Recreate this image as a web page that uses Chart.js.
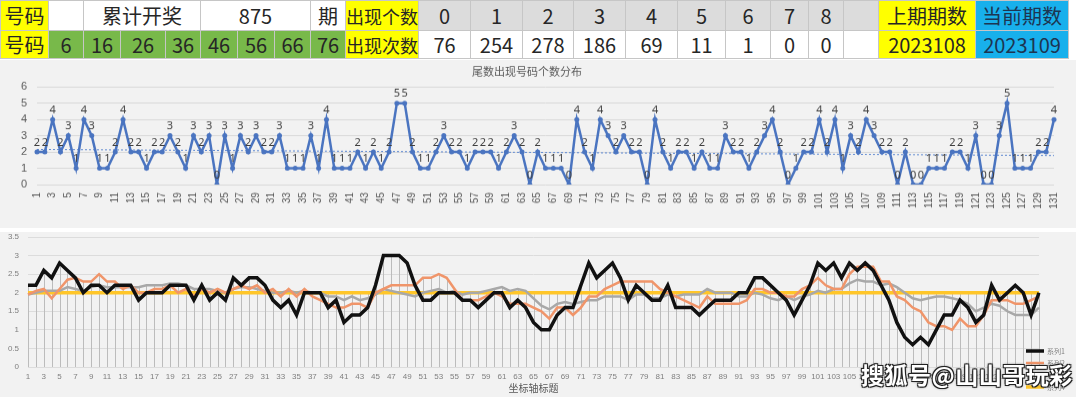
<!DOCTYPE html>
<html>
<head>
<meta charset="utf-8">
<script src="https://cdn.jsdelivr.net/npm/chart.js@4.4.0/dist/chart.umd.min.js"></script>
<style>
body{margin:0;width:1080px;height:397px;overflow:hidden;position:relative;background:#fff;font-family:"Noto Sans CJK SC","Noto Sans",sans-serif;}
#sheet{position:absolute;left:0;top:0;border-collapse:collapse;table-layout:fixed;width:1068px;}
#sheet td{border:1px solid #c6c6c6;padding:0;text-align:center;color:#262626;white-space:nowrap;overflow:hidden;font-size:20px;line-height:24px;}
#sheet tr.r1{height:30px}
#sheet tr.r2{height:28px}
.yel{background:#ffff00}
.grn{background:#78b94a}
.gry{background:#dcdcdc}
.blu{background:#18b0ec;color:#1d3552 !important}
.lbl{font-size:18px !important}
canvas{position:absolute;left:0;background:#f2f2f2;}
#topChart{top:60px;border-bottom:2px solid #fff}
#bottomChart{top:232px}
#mark{position:absolute;left:861px;top:357px;font-size:23px;font-weight:bold;color:#fff;letter-spacing:0.5px;
  text-shadow:-1px -1px 0 #222,1px -1px 0 #222,-1px 1px 0 #222,1px 1px 0 #222,0 0 3px #000;}
</style>
</head>
<body>
<table id="sheet"><colgroup id="cols"></colgroup><tbody id="rows"></tbody></table>
<canvas id="topChart" width="1076" height="170"></canvas>
<canvas id="bottomChart" width="1076" height="165"></canvas>
<div id="mark">搜狐号@山山哥玩彩</div>
<script>
// 表头数据
var tailCodes = [6, 16, 26, 36, 46, 56, 66, 76];
var totalDraws = 875;
var hitDigits = [0, 1, 2, 3, 4, 5, 6, 7, 8];
var hitCounts = [76, 254, 278, 186, 69, 11, 1, 0, 0];
var lastIssue = 2023108;
var currentIssue = 2023109;

// 尾数出现号码个数 (1-131期)
var tailCounts = [
  2, 2, 4, 2, 3, 1, 4, 3, 1, 1,
  2, 4, 2, 2, 1, 2, 2, 3, 2, 1,
  3, 2, 3, 0, 3, 1, 3, 2, 3, 2,
  2, 3, 1, 1, 1, 3, 1, 4, 1, 1,
  1, 2, 1, 2, 1, 2, 5, 5, 2, 1,
  1, 2, 3, 2, 2, 1, 2, 2, 2, 1,
  2, 3, 2, 0, 2, 1, 1, 1, 0, 4,
  2, 1, 4, 3, 2, 3, 2, 2, 0, 4,
  2, 1, 2, 2, 1, 2, 1, 1, 3, 2,
  2, 1, 2, 3, 4, 2, 0, 1, 2, 2,
  4, 2, 4, 1, 3, 2, 4, 3, 2, 2,
  0, 2, 0, 0, 1, 1, 1, 2, 2, 1,
  3, 0, 0, 3, 5, 1, 1, 1, 2, 2,
  4
];

// 下图四个系列 (1-129)
var series1 = [
  2.2, 2.2, 2.6, 2.4, 2.8, 2.6, 2.4, 2.0, 2.2, 2.2,
  2.0, 2.2, 2.2, 2.2, 1.8, 2.0, 2.0, 2.0, 2.2, 2.2,
  2.2, 1.8, 2.2, 1.8, 2.0, 1.8, 2.4, 2.2, 2.4, 2.4,
  2.2, 1.8, 1.6, 1.8, 1.4, 2.0, 2.0, 2.0, 1.6, 1.8,
  1.2, 1.4, 1.4, 1.6, 2.2, 3.0, 3.0, 3.0, 2.8, 2.2,
  1.8, 1.8, 2.0, 2.0, 2.0, 1.8, 1.8, 1.6, 1.8, 2.0,
  2.0, 1.6, 1.8, 1.6, 1.2, 1.0, 1.0, 1.4, 1.6, 1.6,
  2.2, 2.8, 2.4, 2.6, 2.8, 2.4, 1.8, 2.2, 2.0, 1.8,
  1.8, 2.2, 1.6, 1.6, 1.6, 1.4, 1.6, 1.8, 1.8, 1.8,
  2.0, 2.0, 2.4, 2.4, 2.2, 2.0, 1.8, 1.4, 1.8, 2.2,
  2.8, 2.6, 2.8, 2.4, 2.8, 2.6, 2.8, 2.6, 2.2, 1.8,
  1.2, 0.8, 0.6, 0.8, 0.6, 1.0, 1.4, 1.4, 1.8, 1.6,
  1.2, 1.4, 2.2, 1.8, 2.0, 2.2, 2.0, 1.4, 2.0
];
var series2 = [
  1.95, 2.05, 2.1, 1.85, 2.1, 2.35, 2.4, 2.3, 2.3, 2.5,
  2.3, 2.3, 2.1, 2.2, 2.0, 2.0, 2.1, 2.1, 2.2, 2.0,
  2.1, 1.9, 2.1, 2.0, 2.1, 2.0, 2.1, 2.2, 2.1, 2.2,
  2.0, 2.1, 1.9, 2.1, 1.9, 2.1, 1.9, 1.8, 1.7, 1.6,
  1.6, 1.7, 1.7, 1.6, 2.0, 2.1, 2.2, 2.2, 2.2, 2.2,
  2.4, 2.4, 2.5, 2.4, 2.1, 1.8, 1.8, 1.8, 1.9, 2.0,
  1.9, 1.7, 1.7, 1.7, 1.6, 1.5, 1.3, 1.6, 1.6, 1.4,
  1.6, 1.9, 1.9, 2.1, 2.2, 2.3, 2.3, 2.3, 2.3, 2.3,
  2.1, 2.0, 1.9, 1.8, 1.7, 1.6, 1.9, 1.7, 1.7, 1.7,
  1.7, 1.8, 2.1, 2.1, 2.0, 2.0, 1.9, 1.9, 2.1, 2.2,
  2.4, 2.2, 2.1, 2.1, 2.5, 2.7, 2.7, 2.7, 2.3, 2.3,
  1.9, 1.8, 1.6, 1.5, 1.2, 1.1, 1.1, 1.0, 1.3, 1.1,
  1.1, 1.4, 1.8, 1.8, 1.8, 1.7, 1.7, 1.8, 1.9
];
var series3 = [
  1.95, 2.0, 2.05, 2.05, 2.05, 2.15, 2.1, 2.05, 2.15, 2.2,
  2.15, 2.15, 2.15, 2.15, 2.15, 2.2, 2.2, 2.2, 2.25, 2.25,
  2.2, 2.1, 2.1, 2.1, 2.05, 2.0, 2.1, 2.15, 2.15, 2.1,
  2.05, 2.0, 2.0, 2.05, 2.0, 2.05, 2.0, 2.0, 1.9, 1.9,
  1.8, 1.9, 1.8, 1.85, 1.95, 2.1, 2.05, 2.0, 1.95, 1.9,
  2.0, 2.05, 2.1, 2.0, 2.05, 1.95, 2.0, 2.0, 2.05, 2.1,
  2.15, 2.05, 2.1, 2.05, 1.85, 1.65, 1.55, 1.7, 1.75, 1.7,
  1.75, 1.8, 1.8, 1.9, 1.9, 1.9, 1.8, 1.95, 1.95, 1.85,
  1.85, 1.95, 1.9, 1.95, 1.95, 1.95, 2.1, 2.0, 2.0, 2.0,
  1.9, 1.9, 2.0, 1.95, 1.85, 1.8, 1.9, 1.8, 1.9, 1.95,
  2.05, 2.0, 2.1, 2.1, 2.25, 2.35, 2.3, 2.3, 2.2, 2.25,
  2.15, 2.0, 1.85, 1.8, 1.85, 1.9, 1.9, 1.85, 1.8, 1.7,
  1.5, 1.6, 1.7, 1.65, 1.5, 1.4, 1.4, 1.4, 1.6
];
var series4 = [
  2, 2, 2, 2, 2, 2, 2, 2, 2, 2,
  2, 2, 2, 2, 2, 2, 2, 2, 2, 2,
  2, 2, 2, 2, 2, 2, 2, 2, 2, 2,
  2, 2, 2, 2, 2, 2, 2, 2, 2, 2,
  2, 2, 2, 2, 2, 2, 2, 2, 2, 2,
  2, 2, 2, 2, 2, 2, 2, 2, 2, 2,
  2, 2, 2, 2, 2, 2, 2, 2, 2, 2,
  2, 2, 2, 2, 2, 2, 2, 2, 2, 2,
  2, 2, 2, 2, 2, 2, 2, 2, 2, 2,
  2, 2, 2, 2, 2, 2, 2, 2, 2, 2,
  2, 2, 2, 2, 2, 2, 2, 2, 2, 2,
  2, 2, 2, 2, 2, 2, 2, 2, 2, 2,
  2, 2, 2, 2, 2, 2, 2, 2, 2
];
var seriesNames = ['系列1', '系列2', '系列3', '系列4'];
var seriesColors = ['#111111', '#f0956a', '#a8a8a8', '#ffc629'];

var topLabels = tailCounts.map(function (v, i) { return String(i + 1); });
var bottomLabels = series1.map(function (v, i) { return String(i + 1); });

/* ---- 表格 ---- */
var widths = [48,35,37,45,35,37,37,36,35,73,52,52,51,52,52,48,45,38,35,35,97,93];
document.querySelector('#cols').innerHTML = widths.map(function (w) { return '<col style="width:' + w + 'px">'; }).join('');
function cell(text, cls, span) {
  return '<td class="' + (cls || '') + '"' + (span ? ' colspan="' + span + '"' : '') + '>' + text + '</td>';
}
var row1 = cell('号码', 'yel') + cell('', '') + cell('累计开奖', '', 3) + cell(totalDraws, '', 3) + cell('期', '') + cell('出现个数', 'yel lbl');
hitDigits.forEach(function (d) { row1 += cell(d, 'gry'); });
row1 += cell('', 'gry') + cell('上期期数', 'yel') + cell('当前期数', 'blu');
var row2 = cell('号码', 'yel');
tailCodes.forEach(function (c) { row2 += cell(c, 'grn'); });
row2 += cell('出现次数', 'yel lbl');
hitCounts.forEach(function (c) { row2 += cell(c, ''); });
row2 += cell('', '') + cell(lastIssue, 'yel') + cell(currentIssue, 'blu');
document.querySelector('#rows').innerHTML = '<tr class="r1">' + row1 + '</tr><tr class="r2">' + row2 + '</tr>';

/* ---- 上图: 线性趋势线 ---- */
var n = tailCounts.length, sx = 0, sy = 0, sxy = 0, sxx = 0;
tailCounts.forEach(function (v, i) { var x = i + 1; sx += x; sy += v; sxy += x * v; sxx += x * x; });
var slope = (n * sxy - sx * sy) / (n * sxx - sx * sx);
var icpt = (sy - slope * sx) / n;
var trend = tailCounts.map(function (v, i) { return icpt + slope * (i + 1); });

var pointLabels = {
  id: 'pointLabels',
  afterDatasetsDraw: function (chart) {
    var ctx = chart.ctx;
    var meta = chart.getDatasetMeta(0);
    ctx.save();
    ctx.font = '11px "Noto Sans"';
    ctx.fillStyle = '#404040';
    ctx.textAlign = 'center';
    ctx.textBaseline = 'bottom';
    meta.data.forEach(function (pt, i) {
      ctx.fillText(chart.data.datasets[0].data[i], pt.x, pt.y - 4);
    });
    ctx.restore();
  }
};

new Chart(document.querySelector('#topChart').getContext('2d'), {
  type: 'line',
  data: {
    labels: topLabels,
    datasets: [{
      data: tailCounts,
      borderColor: '#4a74c0',
      backgroundColor: '#4a74c0',
      borderWidth: 2.5,
      pointRadius: 2.5,
      pointBorderWidth: 0,
      tension: 0
    }, {
      data: trend,
      borderColor: '#5b86d0',
      borderWidth: 1,
      borderDash: [2, 2],
      pointRadius: 0
    }]
  },
  options: {
    responsive: false,
    animation: false,
    layout: { padding: { left: 0, right: 22, top: 0, bottom: 0 } },
    plugins: {
      legend: { display: false },
      tooltip: { enabled: false },
      title: {
        display: true,
        text: '尾数出现号码个数分布',
        color: '#595959',
        font: { size: 11, weight: 'normal', family: '"Noto Sans CJK SC"' },
        padding: { top: 5, bottom: 9 }
      }
    },
    scales: {
      x: {
        grid: { display: false, drawTicks: false },
        border: { display: false },
        ticks: {
          autoSkip: false, minRotation: 90, maxRotation: 90, padding: 8,
          color: '#595959', font: { size: 10 },
          callback: function (v, i) { return i % 2 === 0 ? this.getLabelForValue(v) : ''; }
        },
        afterFit: function (s) { s.height = 44; }
      },
      y: {
        min: 0, max: 6,
        ticks: { stepSize: 1, padding: 10, color: '#595959', font: { size: 11 } },
        grid: { color: '#d9d9d9', drawTicks: false },
        border: { display: false },
        afterFit: function (s) { s.width = 37; }
      }
    }
  },
  plugins: [pointLabels]
});

/* ---- 下图 ---- */
var dropLines = {
  id: 'dropLines',
  beforeDatasetsDraw: function (chart) {
    var ctx = chart.ctx, area = chart.chartArea;
    var metas = chart.data.datasets.map(function (d, k) { return chart.getDatasetMeta(k); });
    ctx.save();
    ctx.strokeStyle = '#bcbcbc';
    ctx.lineWidth = 1;
    metas[0].data.forEach(function (pt, i) {
      var top = Math.min.apply(null, metas.map(function (m) { return m.data[i].y; }));
      var x = Math.round(pt.x) + 0.5;
      ctx.beginPath();
      ctx.moveTo(x, top);
      ctx.lineTo(x, area.bottom);
      ctx.stroke();
    });
    ctx.restore();
  }
};
var sideLegend = {
  id: 'sideLegend',
  afterDraw: function (chart) {
    var ctx = chart.ctx;
    ctx.save();
    ctx.font = '7px "Noto Sans CJK SC"';
    ctx.textBaseline = 'middle';
    chart.data.datasets.forEach(function (ds, k) {
      var y = 119 + k * 12;
      ctx.strokeStyle = ds.borderColor;
      ctx.lineWidth = ds.borderWidth;
      ctx.beginPath();
      ctx.moveTo(1026, y);
      ctx.lineTo(1044, y);
      ctx.stroke();
      ctx.fillStyle = '#7f7f7f';
      ctx.fillText(ds.label, 1047, y);
    });
    ctx.restore();
  }
};

new Chart(document.querySelector('#bottomChart').getContext('2d'), {
  type: 'line',
  data: {
    labels: bottomLabels,
    datasets: [series1, series2, series3, series4].map(function (d, k) {
      return {
        label: seriesNames[k],
        data: d,
        borderColor: seriesColors[k],
        borderWidth: [3.5, 2.5, 2.5, 3.5][k],
        pointRadius: 0,
        tension: 0
      };
    })
  },
  options: {
    responsive: false,
    animation: false,
    layout: { padding: { left: 0, right: 37, top: 5, bottom: 0 } },
    plugins: { legend: { display: false }, tooltip: { enabled: false } },
    scales: {
      x: {
        grid: { display: false, drawTicks: false },
        border: { display: false },
        ticks: {
          autoSkip: false, maxRotation: 0, minRotation: 0, padding: 5,
          color: '#7f7f7f', font: { size: 8 },
          callback: function (v, i) { return i % 2 === 0 ? this.getLabelForValue(v) : ''; }
        },
        title: {
          display: true, text: '坐标轴标题', color: '#595959',
          font: { size: 10, family: '"Noto Sans CJK SC"' }, padding: { top: 0, bottom: 3 }
        },
        afterFit: function (s) { s.height = 30; }
      },
      y: {
        min: 0, max: 3.5,
        ticks: {
          stepSize: 0.5, padding: 9, color: '#7f7f7f', font: { size: 8 },
          callback: function (v) { return String(Number(v)); }
        },
        grid: { color: '#dcdcdc', drawTicks: false },
        border: { display: false },
        afterFit: function (s) { s.width = 28; s.paddingTop = 0; s.paddingBottom = 0; }
      }
    }
  },
  plugins: [dropLines, sideLegend]
});
</script>
</body>
</html>
